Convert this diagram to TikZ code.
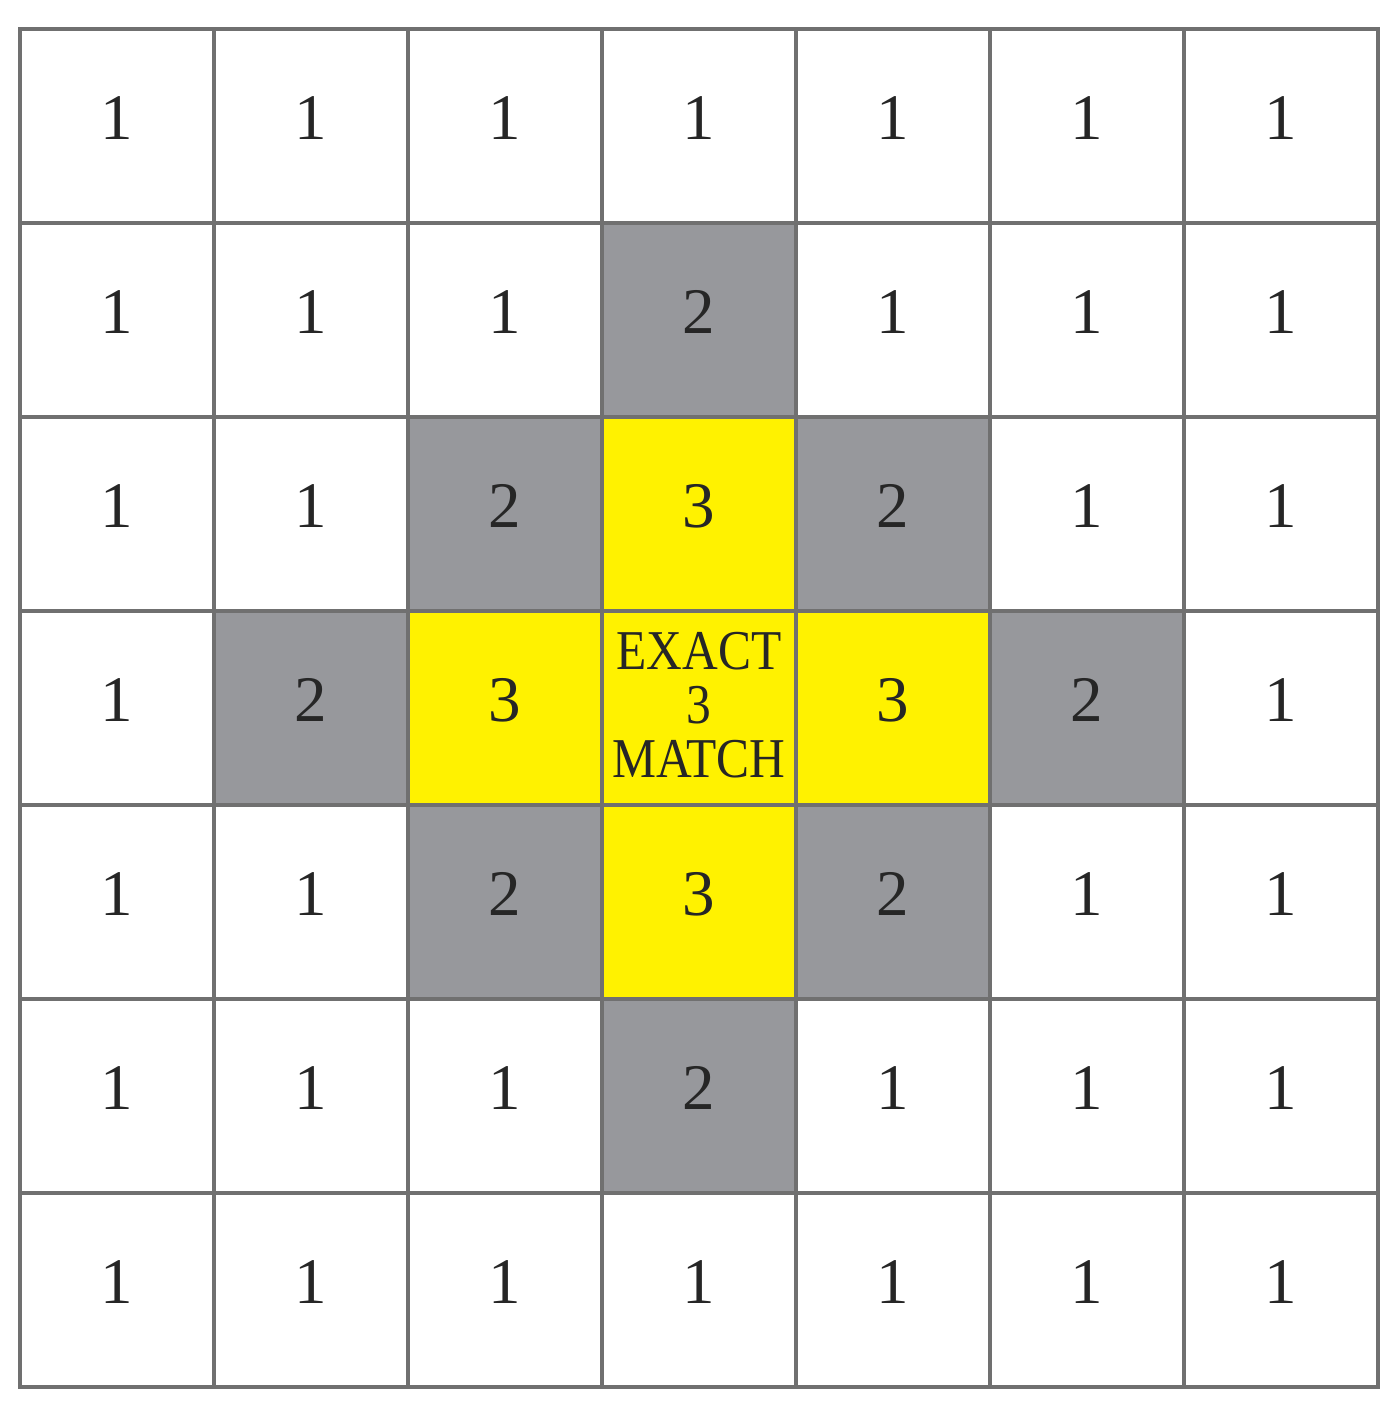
\documentclass[tikz,border=0pt]{standalone}
\usepackage{fontspec}
\setmainfont{Liberation Serif}
\newfontfamily\narrowFont[FakeStretch=0.88]{Liberation Serif}

\definecolor{cellGray}{RGB}{151,152,156}
\definecolor{cellYellow}{RGB}{255,242,0}
\definecolor{gridLine}{RGB}{112,112,112}

\def \cellSize {1.94}
\def \gridLeft {0.20}
\def \gridTop {13.85}

\tikzset{
  cell0/.style={fill=cellYellow},
  cell1/.style={fill=white},
  cell2/.style={fill=cellGray},
  cell3/.style={fill=cellYellow},
  number/.style={font=\fontsize{18.5}{18.5}\selectfont, text=black!85, inner sep=0pt},
  match/.style={font=\narrowFont\fontsize{16}{15.4}\selectfont, text=black!85, inner sep=0pt, align=center}
}

\begin{document}
\begin{tikzpicture}
  \useasboundingbox (0,0) rectangle (13.99,14.14);
  \foreach \row [count=\r from 0] in {{1,1,1,1,1,1,1},{1,1,1,2,1,1,1},{1,1,2,3,2,1,1},{1,2,3,0,3,2,1},{1,1,2,3,2,1,1},{1,1,1,2,1,1,1},{1,1,1,1,1,1,1}}
    \foreach \v [count=\c from 0] in \row {
      \filldraw[cell\v, draw=gridLine, line width=0.9pt] ({\gridLeft+\c*\cellSize}, {\gridTop-\r*\cellSize}) rectangle ++(\cellSize,-\cellSize);
      \ifnum\v=0
        \node[match] (cell-\r-\c) at ({\gridLeft+(\c+0.5)*\cellSize}, {\gridTop-(\r+0.5)*\cellSize+0.03}) {EXACT\\3\\MATCH};
      \else
        \node[number] (cell-\r-\c) at ({\gridLeft+(\c+0.5)*\cellSize}, {\gridTop-(\r+0.5)*\cellSize+0.08}) {\v};
      \fi
    }
\end{tikzpicture}
\end{document}
